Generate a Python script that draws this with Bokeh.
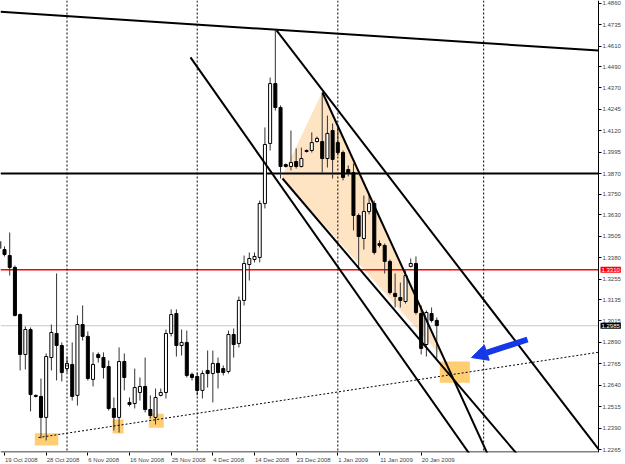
from bokeh.plotting import figure
from bokeh.models import (Range1d, FixedTicker, Span, Label, Arrow, NormalHead, ColumnDataSource,
                          PrintfTickFormatter, CustomJSTickFormatter)
from bokeh.embed import file_html
from bokeh.resources import INLINE

# ---- daily candles (bar index 0 = 19 Oct 2008) ----
bar_idx = list(range(-1, 84))
opens = [1.3475, 1.3428, 1.3393, 1.3324, 1.3050, 1.2818, 1.2963, 1.2580, 1.2574, 1.2452,
         1.2800, 1.2940, 1.2870, 1.2736, 1.2760, 1.2580, 1.2992, 1.2923, 1.2673, 1.2818,
         1.2800, 1.2748, 1.2504, 1.2452, 1.2777, 1.2539, 1.2533, 1.2597, 1.2632, 1.2498,
         1.2452, 1.2580, 1.2597, 1.2940, 1.3056, 1.2870, 1.2888, 1.2702, 1.2690, 1.2609,
         1.2725, 1.2707, 1.2766, 1.2736, 1.2719, 1.2934, 1.2882, 1.3132, 1.3341, 1.3370,
         1.3382, 1.3696, 1.4045, 1.4393, 1.4254, 1.3922, 1.3911, 1.3940, 1.3911, 1.3998,
         1.4004, 1.4056, 1.4056, 1.3957, 1.4120, 1.4050, 1.3992, 1.3893, 1.3876, 1.3626,
         1.3492, 1.3649, 1.3696, 1.3463, 1.3452, 1.3359, 1.3173, 1.3149, 1.3126, 1.3330,
         1.3347, 1.3056, 1.2876, 1.3056, 1.3016]
highs = [1.3492, 1.3446, 1.3527, 1.3335, 1.3056, 1.2981, 1.2975, 1.2585, 1.2678, 1.2824,
         1.2992, 1.3289, 1.2888, 1.2806, 1.2888, 1.3045, 1.3103, 1.2952, 1.2830, 1.2830,
         1.2830, 1.2783, 1.2568, 1.2859, 1.2824, 1.2568, 1.2736, 1.2684, 1.2800, 1.2580,
         1.2620, 1.2620, 1.2963, 1.3080, 1.3080, 1.2963, 1.2957, 1.2713, 1.2713, 1.2725,
         1.2841, 1.2841, 1.2800, 1.2754, 1.2957, 1.2969, 1.3155, 1.3393, 1.3411, 1.3411,
         1.3713, 1.4138, 1.4428, 1.4702, 1.4266, 1.3928, 1.4120, 1.4016, 1.4021, 1.4010,
         1.4109, 1.4085, 1.4341, 1.4207, 1.4161, 1.4138, 1.4004, 1.3917, 1.3928, 1.3638,
         1.3742, 1.3754, 1.3713, 1.3481, 1.3463, 1.3370, 1.3289, 1.3236, 1.3306, 1.3376,
         1.3388, 1.3103, 1.3074, 1.3091, 1.3033]
lows = [1.3423, 1.3388, 1.3277, 1.3039, 1.2725, 1.2731, 1.2487, 1.2568, 1.2330, 1.2318,
        1.2725, 1.2667, 1.2661, 1.2713, 1.2550, 1.2521, 1.2899, 1.2667, 1.2632, 1.2771,
        1.2678, 1.2492, 1.2376, 1.2364, 1.2609, 1.2516, 1.2504, 1.2550, 1.2481, 1.2446,
        1.2411, 1.2574, 1.2562, 1.2923, 1.2806, 1.2812, 1.2684, 1.2667, 1.2580, 1.2562,
        1.2626, 1.2539, 1.2620, 1.2696, 1.2707, 1.2800, 1.2859, 1.3103, 1.3248, 1.3353,
        1.3353, 1.3667, 1.4004, 1.4236, 1.3841, 1.3905, 1.3888, 1.3899, 1.3905, 1.3992,
        1.3992, 1.4050, 1.3876, 1.3905, 1.3841, 1.3975, 1.3830, 1.3853, 1.3539, 1.3306,
        1.3428, 1.3632, 1.3399, 1.3440, 1.3289, 1.3167, 1.3091, 1.3091, 1.3114, 1.3324,
        1.3050, 1.2818, 1.2806, 1.3004, 1.2795]
closes = [1.3434, 1.3399, 1.3324, 1.3045, 1.2818, 1.2963, 1.2585, 1.2574, 1.2452, 1.2806,
          1.2946, 1.2870, 1.2713, 1.2766, 1.2574, 1.2992, 1.2923, 1.2678, 1.2760, 1.2800,
          1.2742, 1.2504, 1.2452, 1.2777, 1.2684, 1.2527, 1.2626, 1.2632, 1.2498, 1.2463,
          1.2568, 1.2597, 1.2940, 1.3050, 1.2870, 1.2888, 1.2696, 1.2684, 1.2609, 1.2707,
          1.2707, 1.2766, 1.2713, 1.2713, 1.2934, 1.2876, 1.3132, 1.3347, 1.3376, 1.3388,
          1.3696, 1.4039, 1.4393, 1.4254, 1.3911, 1.3911, 1.3934, 1.3911, 1.3957, 1.4004,
          1.4050, 1.4074, 1.3957, 1.4103, 1.3952, 1.3992, 1.3847, 1.3870, 1.3626, 1.3504,
          1.3649, 1.3696, 1.3411, 1.3452, 1.3359, 1.3178, 1.3155, 1.3132, 1.3277, 1.3347,
          1.3062, 1.2853, 1.3062, 1.3016, 1.2986]

# ---- axes ----
x_tick_idx = [0, 8, 16, 24, 32, 40, 48, 56, 64, 72, 80]
x_tick_labels = ["19 Oct 2008", "28 Oct 2008", "6 Nov 2008", "16 Nov 2008", "25 Nov 2008",
                 "4 Dec 2008", "14 Dec 2008", "23 Dec 2008", "1 Jan 2009", "11 Jan 2009",
                 "20 Jan 2009"]
y_ticks = [1.4860, 1.4735, 1.4610, 1.4490, 1.4370, 1.4245, 1.4120, 1.3995, 1.3870, 1.3750,
           1.3630, 1.3505, 1.3380, 1.3255, 1.3135, 1.3015, 1.2890, 1.2765, 1.2640, 1.2515,
           1.2390, 1.2265]
month_sep_idx = [12, 37, 64, 92]

# ---- drawn objects ----
hline_black = 1.3870
hline_red = 1.3310
bid_price = 1.2985
trend_x0 = [-0.77, 52.23, 61.06, 35.71, 53.38]
trend_p0 = [1.4810, 1.4702, 1.4341, 1.4545, 1.3841]
trend_x1 = [114.05, 114.05, 86.21, 89.09, 86.21]
trend_p1 = [1.4585, 1.2268, 1.2673, 1.2248, 1.2673]
support_x = [6.53, 113.86]
support_p = [1.2335, 1.2830]
tri_x = [53.19, 61.06, 84.10]
tri_p = [1.3847, 1.4347, 1.2800]
box_left = [5.82, 20.74, 27.71, 83.58]
box_right = [10.31, 22.85, 30.59, 89.35]
box_bottom = [1.2289, 1.2359, 1.2392, 1.2653]
box_top = [1.2360, 1.2440, 1.2473, 1.2777]
arrow_from = (100.42, 1.2905)
arrow_to = (89.67, 1.2800)

X_LO, X_HI = -0.77, 114.05          # chart area (price axis sits at X_HI)
Y_LO, Y_HI = 1.2248, 1.4876
CHART_W, CANVAS_W, FRAME_H = 598, 625, 452
PX_PER_BAR = CHART_W / (X_HI - X_LO)
X_END = X_LO + CANVAS_W / PX_PER_BAR
PX_PER_PRICE = FRAME_H / (Y_HI - Y_LO)

p = figure(frame_width=CANVAS_W, frame_height=FRAME_H, x_range=Range1d(X_LO, X_END),
           y_range=Range1d(Y_LO, Y_HI), y_axis_location="right",
           toolbar_location=None, output_backend="svg", min_border=0)
p.outline_line_color = None
p.xgrid.visible = False
p.ygrid.visible = False
p.background_fill_color = "white"
p.border_fill_color = "white"

FONT = "Liberation Sans"
FS = 6.0
CW = {" ": .278, "O": .778, "c": .5, "t": .278, "N": .722, "o": .556, "v": .5, "D": .722,
      "e": .556, "J": .5, "a": .556, "n": .556}
def text_w(s):
    return sum(CW.get(ch, .556) for ch in s) * FS

label_centers = [i + (text_w(s) / 2 + 0.5) / PX_PER_BAR for i, s in zip(x_tick_idx, x_tick_labels)]

xa = p.xaxis[0]
xa.ticker = FixedTicker(ticks=label_centers, minor_ticks=x_tick_idx)
xa.formatter = CustomJSTickFormatter(args=dict(labels=x_tick_labels), code="return labels[index]")
xa.major_label_text_font = FONT
xa.major_label_text_font_size = "%gpx" % FS
xa.major_label_standoff = 1
xa.major_tick_out = 0
xa.major_tick_in = 0
xa.minor_tick_out = 3
xa.minor_tick_in = 0
xa.minor_tick_line_color = "black"
xa.axis_line_color = None

ya = p.yaxis[0]
ya.fixed_location = X_HI
ya.ticker = FixedTicker(ticks=y_ticks)
ya.formatter = PrintfTickFormatter(format="%.4f")
ya.major_label_text_font = FONT
ya.major_label_text_font_size = "%gpx" % FS
ya.major_label_standoff = 1
ya.major_tick_out = 3
ya.major_tick_in = 0
ya.minor_tick_out = 0
ya.minor_tick_in = 0
ya.axis_line_color = "black"

p.patch(tri_x, tri_p, fill_color="#FFE4C4", line_color=None)
p.quad(left=box_left, right=box_right, bottom=box_bottom, top=box_top,
       fill_color="#FFC966", fill_alpha=0.92, line_color=None)

for s in month_sep_idx:
    p.add_layout(Span(location=s, dimension="height", line_color="black",
                      line_width=1, line_dash="2 2"))

p.segment(x0=[X_LO] * 3, x1=[X_HI] * 3, y0=[bid_price, hline_red, hline_black],
          y1=[bid_price, hline_red, hline_black],
          line_color=["#C8C8C8", "#FF0000", "black"], line_width=[1, 1.5, 2])
yb = Y_LO + 0.5 / PX_PER_PRICE
p.segment(x0=[X_LO], x1=[X_HI], y0=[yb], y1=[yb], line_color="black", line_width=1)

up = [c >= o for o, c in zip(opens, closes)]
src = ColumnDataSource(dict(
    x=bar_idx, h=highs, l=lows,
    top=[max(o, c) for o, c in zip(opens, closes)],
    bottom=[min(o, c) for o, c in zip(opens, closes)],
    fill=["white" if u else "black" for u in up],
))
p.segment(x0="x", y0="h", x1="x", y1="l", source=src, line_color="#333333", line_width=1)
p.vbar(x="x", width=0.58, top="top", bottom="bottom", fill_color="fill",
       line_color="black", line_width=1, source=src)

ex0, ey0, ex1, ey1 = [], [], [], []
for x0, p0, x1, p1 in zip(trend_x0, trend_p0, trend_x1, trend_p1):
    k = (p1 - p0) / (x1 - x0)
    ex0.append(x0); ey0.append(p0)
    ex1.append(X_HI); ey1.append(p0 + k * (X_HI - x0))
p.segment(x0=ex0, y0=ey0, x1=ex1, y1=ey1, line_color="black", line_width=2)

ks = (support_p[1] - support_p[0]) / (support_x[1] - support_x[0])
p.line([support_x[0], X_HI], [support_p[0], support_p[0] + ks * (X_HI - support_x[0])],
       line_color="black", line_width=1, line_dash="2 2")

blue = "#1437E8"
p.add_layout(Arrow(end=NormalHead(size=16, fill_color=blue, line_color=blue),
                   x_start=arrow_from[0], y_start=arrow_from[1],
                   x_end=arrow_to[0], y_end=arrow_to[1],
                   line_color=blue, line_width=6))

extra = {"padding": 1} if "padding" in Label.properties() else {}
lx = X_HI + 2.0 / PX_PER_BAR
for price, bg in [(hline_red, "#FF0000"), (bid_price, "black")]:
    p.add_layout(Label(x=lx, y=price, text="%.4f" % price,
                       text_color="white", background_fill_color=bg, text_font=FONT,
                       text_font_size="%gpx" % FS, text_baseline="middle", text_align="left",
                       level="overlay", **extra))

open("out.html", "w").write(file_html(p, INLINE))
